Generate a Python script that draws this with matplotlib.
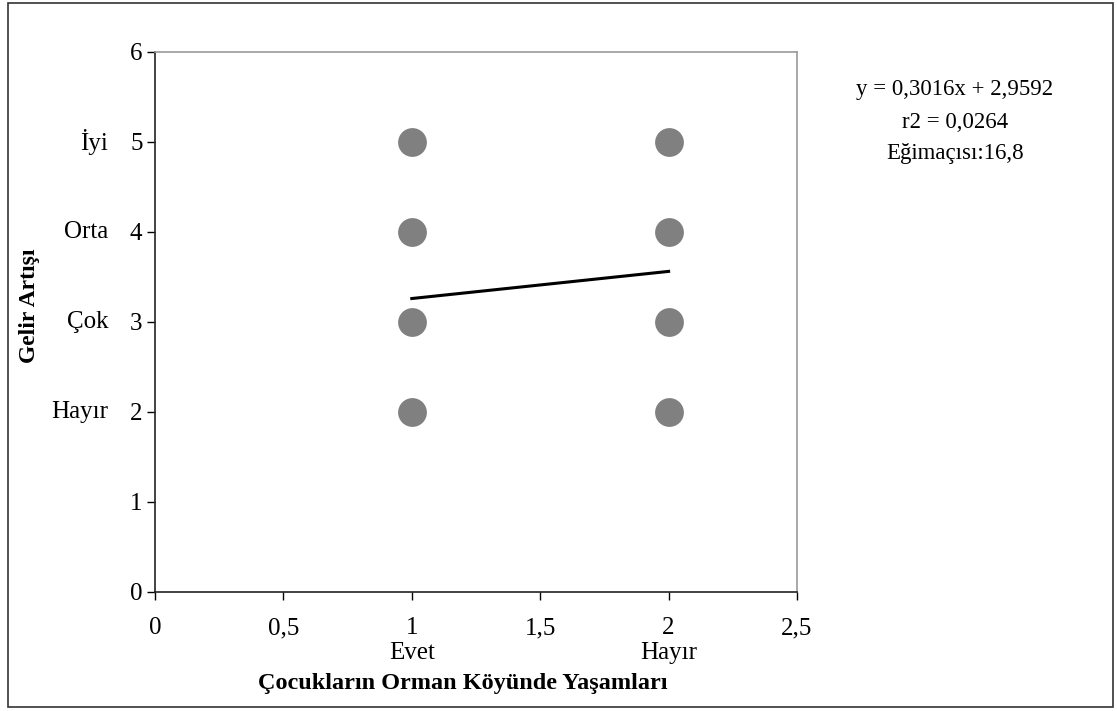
import matplotlib
matplotlib.use("Agg")
import matplotlib.pyplot as plt
from matplotlib.patches import Rectangle

plt.rcParams['font.family'] = ['Liberation Serif', 'DejaVu Serif']

# Data
x_points = [1, 1, 1, 1, 2, 2, 2, 2]
y_points = [2, 3, 4, 5, 2, 3, 4, 5]
slope = 0.3016
intercept = 2.9592
fit_x = [1, 2]
x_ticks = [0, 0.5, 1, 1.5, 2, 2.5]
x_tick_labels = ['0', '0,5', '1', '1,5', '2', '2,5']
y_ticks = [0, 1, 2, 3, 4, 5, 6]
y_categories = ['Hayır', 'Çok', 'Orta', 'İyi']
y_category_vals = [2, 3, 4, 5]
x_categories = ['Evet', 'Hayır']
x_category_vals = [1, 2]
stats_text = ['y = 0,3016x + 2,9592', 'r2 = 0,0264', 'Eğimaçısı:16,8']

fig = plt.figure(figsize=(11.17, 7.11), dpi=100)
fig.patches.append(Rectangle((8/1117, 1-707/711), (1113-8)/1117, (707-3)/711,
                             transform=fig.transFigure, fill=False,
                             edgecolor='#333333', linewidth=1.2))
ax = fig.add_axes([155/1117, 1-592/711, (797-155)/1117, (592-52)/711])

ax.scatter(x_points, y_points, s=430, color='#808080', zorder=3, linewidths=0)
fit_y = [slope * v + intercept for v in fit_x]
ax.plot(fit_x, fit_y, color='black', linewidth=2.2, zorder=4)

ax.set_xlim(0, 2.5)
ax.set_ylim(0, 6)
ax.set_xticks(x_ticks)
ax.set_xticklabels(x_tick_labels)
ax.set_yticks(y_ticks)
ax.set_yticklabels([str(v) for v in y_ticks])
ax.tick_params(direction='out', length=6, width=1, labelsize=18)
ax.tick_params(axis='x', pad=12)
ax.tick_params(axis='y', pad=3)

for side in ['left', 'bottom']:
    ax.spines[side].set_color('#222222')
    ax.spines[side].set_linewidth(1.2)
for side in ['top', 'right']:
    ax.spines[side].set_color('#999999')
    ax.spines[side].set_linewidth(1.2)

for lab, v in zip(y_categories, y_category_vals):
    ax.annotate(lab, xy=(0, v), xycoords=('axes fraction', 'data'),
                xytext=(-47, 0), textcoords='offset pixels',
                ha='right', va='center', fontsize=18)
for lab, v in zip(x_categories, x_category_vals):
    ax.annotate(lab, xy=(v, 0), xycoords=('data', 'axes fraction'),
                xytext=(0, -61), textcoords='offset pixels',
                ha='center', va='center', fontsize=18)

fig.text(463/1117, 1-684/711, 'Çocukların Orman Köyünde Yaşamları',
         ha='center', va='center', fontsize=17.5, fontweight='bold')
fig.text(30/1117, 1-306/711, 'Gelir Artışı', rotation=90,
         ha='center', va='center', fontsize=17, fontweight='bold')

for i, t in enumerate(stats_text):
    fig.text(955/1117, 1-(90 + 32*i)/711, t, ha='center', va='center', fontsize=16.5)

fig.savefig('out.png', dpi=100)
